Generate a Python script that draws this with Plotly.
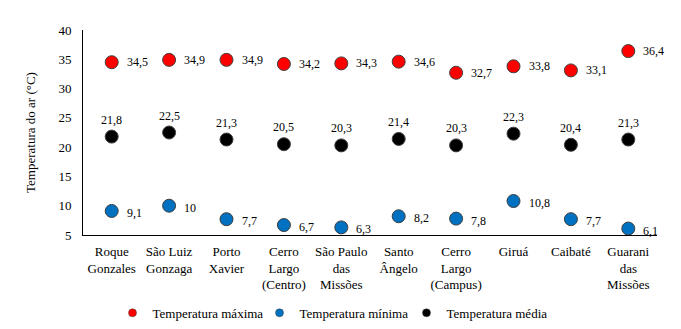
import plotly.graph_objects as go

categories = ["Roque<br>Gonzales", "São Luiz<br>Gonzaga", "Porto<br>Xavier", "Cerro<br>Largo<br>(Centro)",
              "São Paulo<br>das<br>Missões", "Santo<br>Ângelo", "Cerro<br>Largo<br>(Campus)", "Giruá",
              "Caibaté", "Guarani<br>das<br>Missões"]
t_max = [34.5, 34.9, 34.9, 34.2, 34.3, 34.6, 32.7, 33.8, 33.1, 36.4]
t_min = [9.1, 10.0, 7.7, 6.7, 6.3, 8.2, 7.8, 10.8, 7.7, 6.1]
t_med = [21.8, 22.5, 21.3, 20.5, 20.3, 21.4, 20.3, 22.3, 20.4, 21.3]
y_ticks = [5, 10, 15, 20, 25, 30, 35, 40]

FONT = "Times New Roman, Liberation Serif, DejaVu Serif, serif"
series = [("Temperatura máxima", t_max, "#FF0000"),
          ("Temperatura mínima", t_min, "#0070C0"),
          ("Temperatura média", t_med, "#000000")]

def fmt(v):
    return f"{v:g}".replace(".", ",")

fig = go.Figure()
line = dict(color="#404040", width=1)
for name, vals, col in series:
    fig.add_trace(go.Scatter(x=categories, y=vals, mode="markers", name=name, showlegend=False,
                             marker=dict(color=col, size=13, line=line), cliponaxis=False))
for name, vals, col in series:
    fig.add_trace(go.Scatter(x=[None], y=[None], mode="markers", name=name, showlegend=True,
                             marker=dict(color=col, size=8, line=dict(color="#404040", width=0.5))))

annotations = []
for vals, yshift in ((t_max, 0), (t_min, -2)):
    for c, v in zip(categories, vals):
        annotations.append(dict(x=c, y=v, text=fmt(v), showarrow=False, xanchor="left",
                                yanchor="middle", xshift=13, yshift=yshift,
                                font=dict(family=FONT, size=12, color="#000")))
for c, v in zip(categories, t_med):
    annotations.append(dict(x=c, y=v, text=fmt(v), showarrow=False, xanchor="center",
                            yanchor="middle", yshift=17,
                            font=dict(family=FONT, size=12, color="#000")))

fig.update_layout(
    width=681, height=329,
    margin=dict(l=83, r=24, t=30, b=94, autoexpand=False),
    paper_bgcolor="white", plot_bgcolor="white",
    font=dict(family=FONT, size=13, color="#000"),
    showlegend=True,
    annotations=annotations,
    legend=dict(orientation="h", xref="container", yref="container", x=0.489, y=0.049,
                xanchor="center", yanchor="middle", font=dict(family=FONT, size=13),
                entrywidth=102, entrywidthmode="pixels", itemsizing="trace"),
    xaxis=dict(range=[-0.5, 9.5], showline=True, linecolor="#000", linewidth=1, automargin=False,
               showgrid=False, ticks="", ticklabelstandoff=4, tickfont=dict(family=FONT, size=13)),
    yaxis=dict(range=[5, 40], tickvals=y_ticks, showline=True, linecolor="#000", linewidth=1,
               showgrid=False, zeroline=False, ticks="", ticklabelstandoff=8, automargin=False,
               tickfont=dict(family=FONT, size=13),
               title=dict(text="Temperatura do ar (°C)", font=dict(family=FONT, size=13), standoff=19)),
)
fig.write_html("out.html")
